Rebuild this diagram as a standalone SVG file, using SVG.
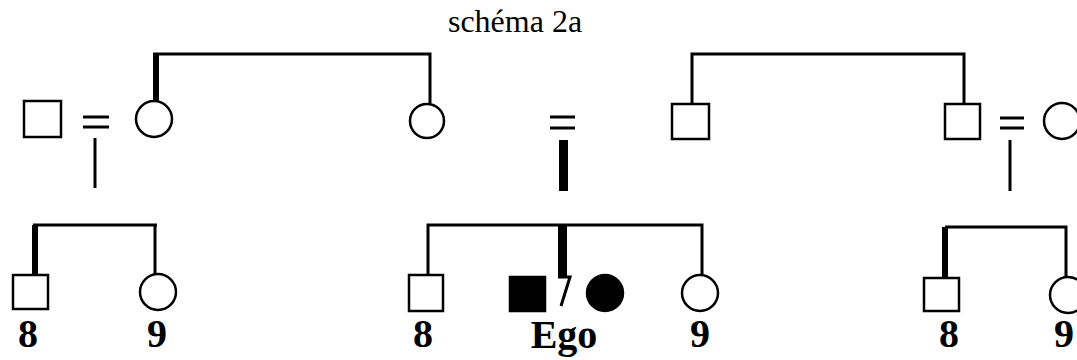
<svg xmlns="http://www.w3.org/2000/svg" width="1077" height="360" viewBox="0 0 1077 360">
  <style>
    .m { fill: #fff; stroke: #000; stroke-width: 2.5; }
    .f { fill: #000; stroke: #000; stroke-width: 2.5; }
    .ln { fill: none; stroke: #000; stroke-width: 3; stroke-linecap: butt; }
    .thick { fill: none; stroke: #000; stroke-width: 6; }
    .bar { fill: #000; }
    .title { font-family: "Liberation Serif", "Times New Roman", serif; font-size: 32px; fill: #000; text-anchor: middle; }
    .lbl { font-family: "Liberation Serif", "Times New Roman", serif; font-size: 40px; font-weight: bold; fill: #000; text-anchor: middle; }
  </style>

  <text class="title" x="515" y="32">schéma 2a</text>

  <g id="connectors">
    <!-- upper sibling set, left -->
    <path class="ln" d="M153,54 H430 V103"/>
    <path class="thick" d="M156,54 V101"/>
    <!-- upper sibling set, right -->
    <path class="ln" d="M692,104 V54 H964 V104"/>
    <!-- marriage marks and descent lines -->
    <path class="ln" d="M83,117 H109 M83,127 H109 M95,138 V188"/>
    <path class="ln" d="M550,117 H575 M550,128 H575"/>
    <rect class="bar" x="559" y="140" width="9" height="51"/>
    <path class="ln" d="M1000,118 H1024 M1000,128 H1024 M1010,140 V191"/>
    <!-- lower sibling set, left -->
    <path class="ln" d="M33,225 H157 M155,225 V275"/>
    <path class="thick" d="M35,225 V275"/>
    <!-- lower sibling set, centre -->
    <path class="ln" d="M428,275 V225 H702 V275"/>
    <rect class="bar" x="558" y="225" width="9" height="52"/>
    <path class="ln" d="M558,277 H570 L561,306"/>
    <!-- lower sibling set, right -->
    <path class="ln" d="M945,227 H1066 V278"/>
    <path class="thick" d="M945,227 V278"/>
  </g>

  <!-- generation 1 -->
  <g id="g1-man-left"><rect class="m" x="24" y="101" width="37" height="36"/></g>
  <g id="g1-woman-left"><circle class="m" cx="154" cy="119" r="18"/></g>
  <g id="g1-woman-mid"><circle class="m" cx="427" cy="121" r="17"/></g>
  <g id="g1-man-mid"><rect class="m" x="672" y="104" width="37" height="35"/></g>
  <g id="g1-man-right"><rect class="m" x="945" y="104" width="35" height="35"/></g>
  <g id="g1-woman-right"><circle class="m" cx="1062" cy="121" r="18"/></g>

  <!-- generation 2 -->
  <g id="g2-left-8"><rect class="m" x="13" y="275" width="35" height="34"/><text class="lbl" x="28" y="347">8</text></g>
  <g id="g2-left-9"><circle class="m" cx="158" cy="292" r="18"/><text class="lbl" x="157" y="347">9</text></g>
  <g id="g2-mid-8"><rect class="m" x="409" y="275" width="34" height="36"/><text class="lbl" x="423" y="347">8</text></g>
  <g id="ego">
    <rect class="f" x="510" y="277" width="35" height="34"/>
    <circle class="f" cx="605" cy="293" r="18"/>
    <text class="lbl" x="564" y="348">Ego</text>
  </g>
  <g id="g2-mid-9"><circle class="m" cx="700" cy="293" r="18"/><text class="lbl" x="700" y="347">9</text></g>
  <g id="g2-right-8"><rect class="m" x="924" y="278" width="35" height="33"/><text class="lbl" x="949" y="347">8</text></g>
  <g id="g2-right-9"><circle class="m" cx="1068" cy="295" r="18"/><text class="lbl" x="1064" y="347">9</text></g>
</svg>
